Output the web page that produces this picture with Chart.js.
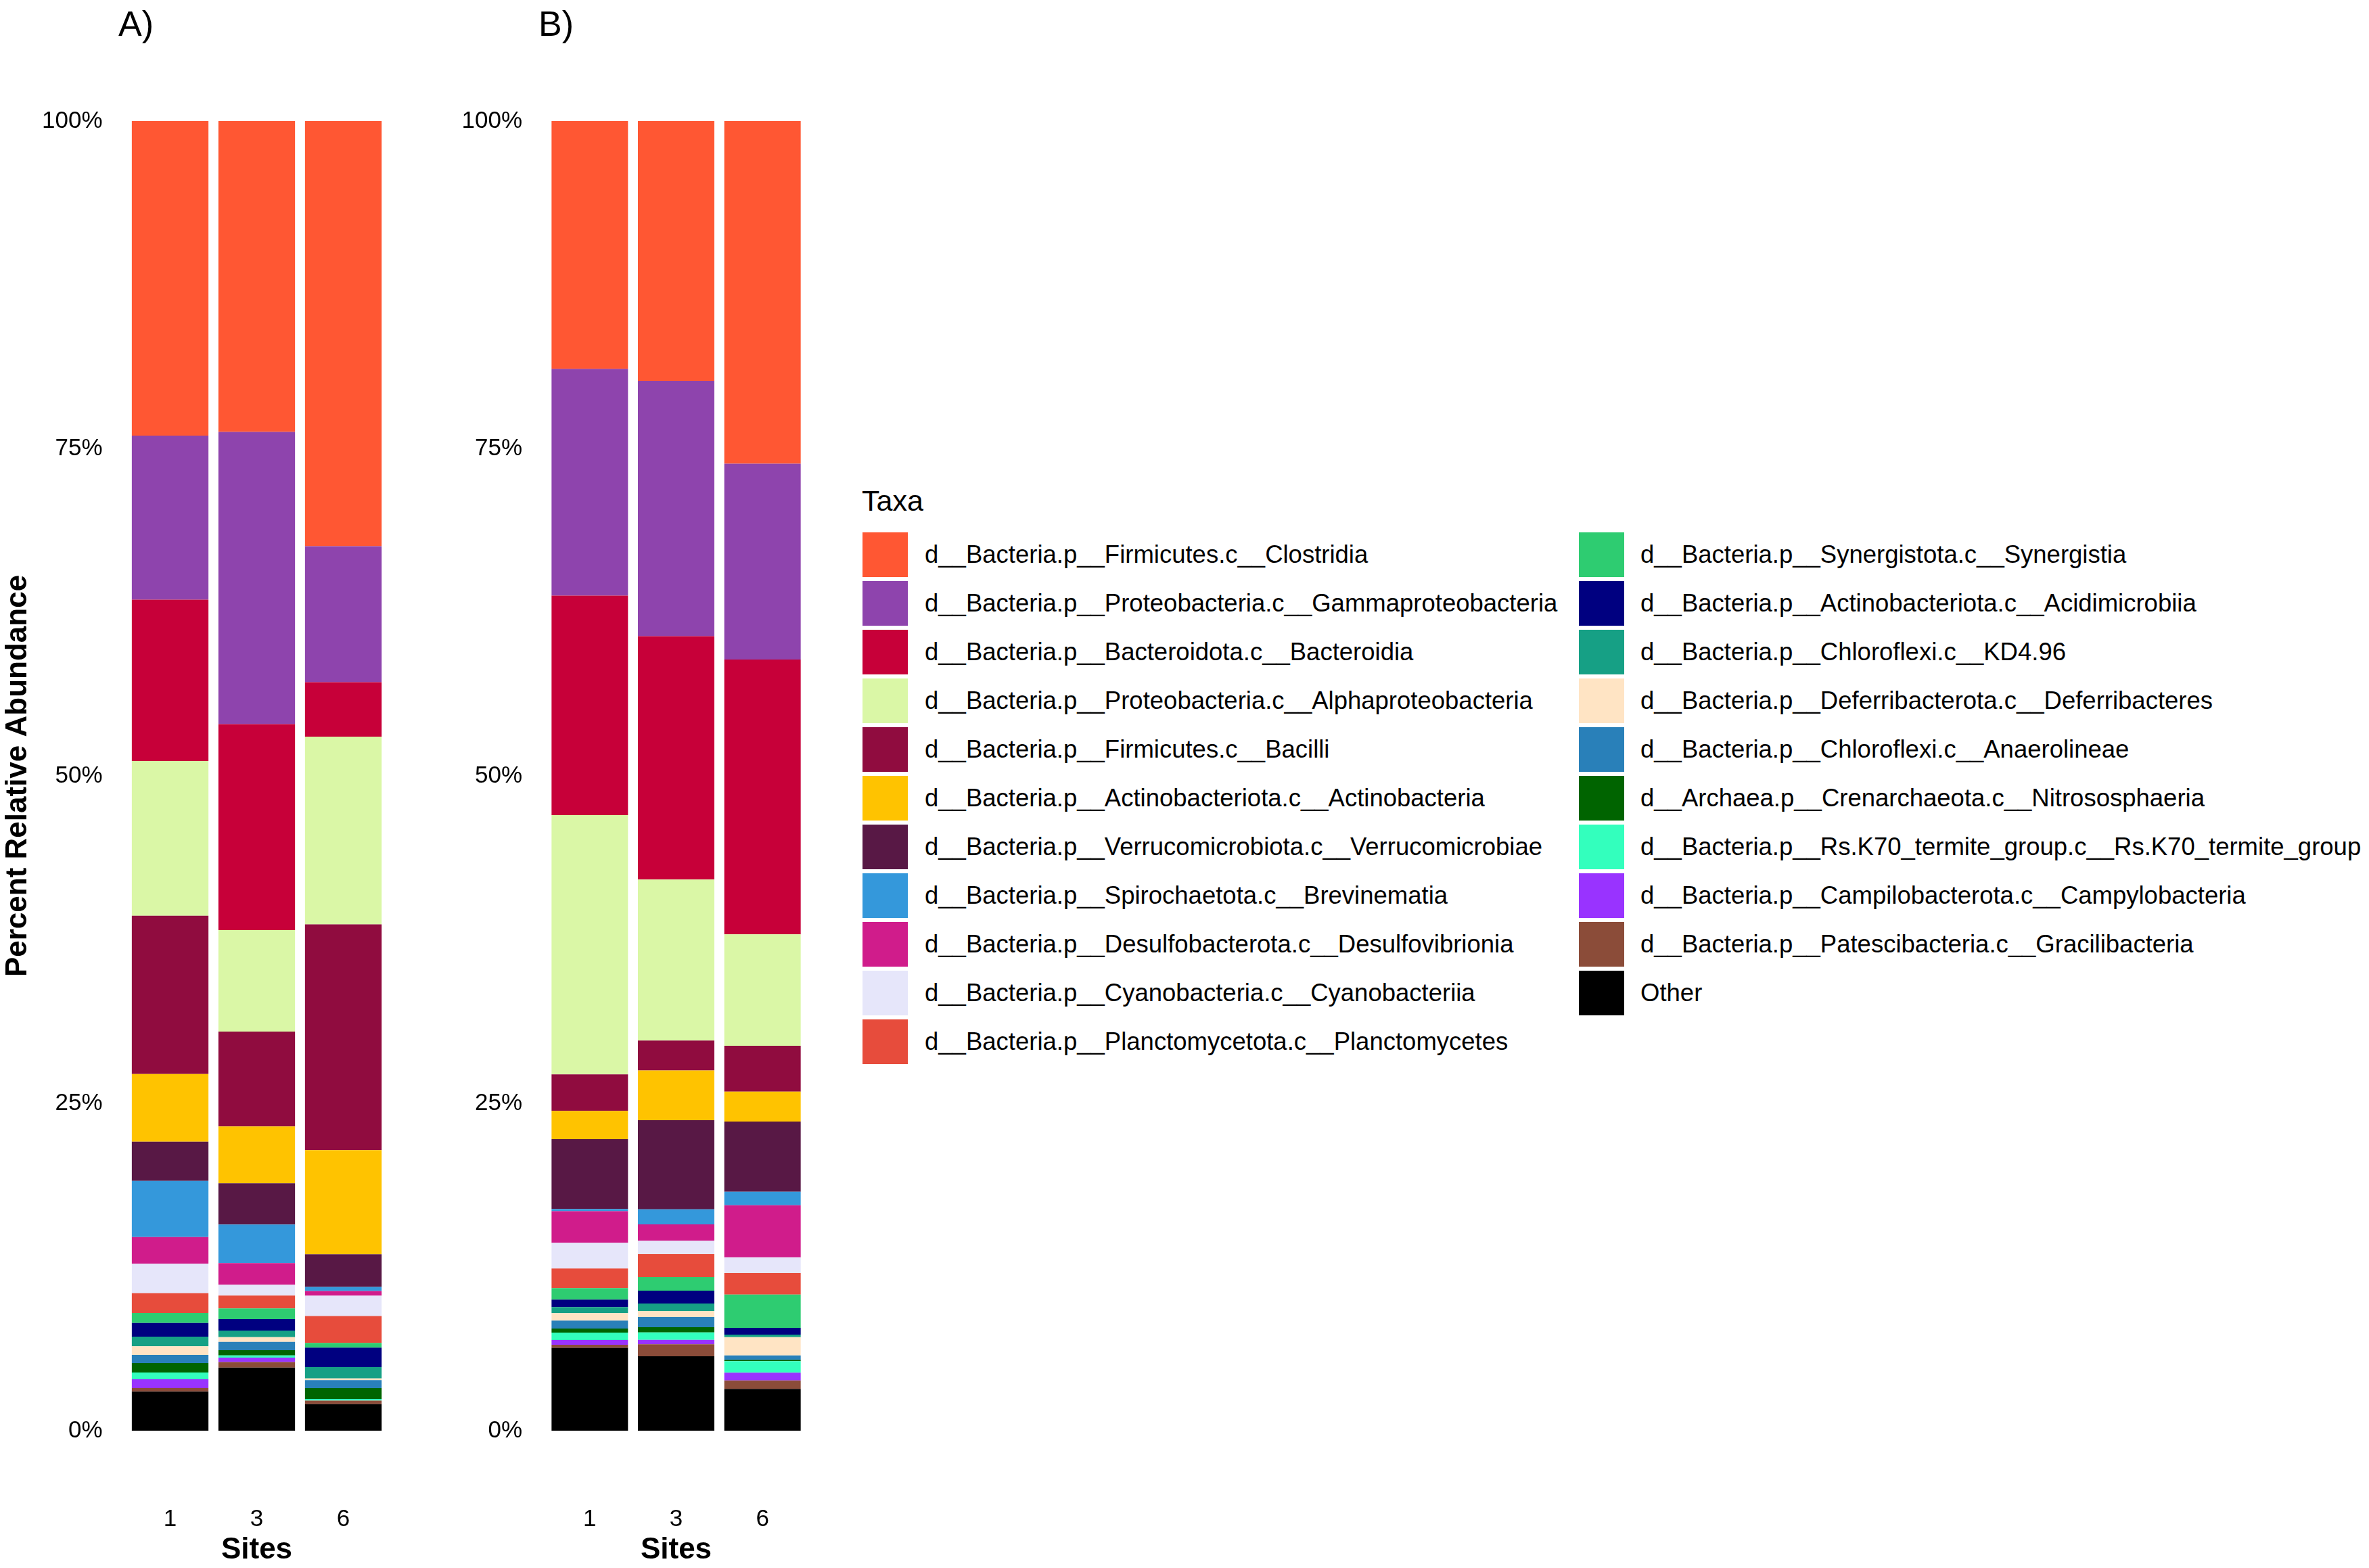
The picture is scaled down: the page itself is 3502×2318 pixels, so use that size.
<!DOCTYPE html>
<html>
<head>
<meta charset="utf-8">
<script src="https://cdn.jsdelivr.net/npm/chart.js@4.4.1/dist/chart.umd.min.js"></script>
<style>
  html, body { margin: 0; padding: 0; background: #ffffff; }
  body { width: 3502px; height: 2318px; position: relative; overflow: hidden;
         font-family: "Liberation Sans", Arial, Helvetica, sans-serif; color: #000; }
  .panel { position: absolute; top: 0; height: 2318px; }
  .tag { position: absolute; font-size: 52px; line-height: 52px; top: 9px; color: #000; }
  #legend { position: absolute; left: 0; top: 0; }
  .ltitle { position: absolute; left: 1274px; top: 719px; font-size: 43px; line-height: 43px; white-space: nowrap; }
  .key { position: absolute; width: 67px; height: 66px; }
  .lab { position: absolute; font-size: 36.5px; line-height: 72px; height: 72px; white-space: nowrap; }
</style>
</head>
<body>
<div class="tag" style="left:175px">A)</div>
<div class="tag" style="left:796px">B)</div>
<div class="panel" id="wrapA" style="left:0px; width:620px;"><canvas id="chartA"></canvas></div>
<div class="panel" id="wrapB" style="left:620px; width:620px;"><canvas id="chartB"></canvas></div>
<div id="legend"></div>

<script>
// ---------------- DATA ----------------
const sites = ['1', '3', '6'];

const taxa = [
  'd__Bacteria.p__Firmicutes.c__Clostridia',
  'd__Bacteria.p__Proteobacteria.c__Gammaproteobacteria',
  'd__Bacteria.p__Bacteroidota.c__Bacteroidia',
  'd__Bacteria.p__Proteobacteria.c__Alphaproteobacteria',
  'd__Bacteria.p__Firmicutes.c__Bacilli',
  'd__Bacteria.p__Actinobacteriota.c__Actinobacteria',
  'd__Bacteria.p__Verrucomicrobiota.c__Verrucomicrobiae',
  'd__Bacteria.p__Spirochaetota.c__Brevinematia',
  'd__Bacteria.p__Desulfobacterota.c__Desulfovibrionia',
  'd__Bacteria.p__Cyanobacteria.c__Cyanobacteriia',
  'd__Bacteria.p__Planctomycetota.c__Planctomycetes',
  'd__Bacteria.p__Synergistota.c__Synergistia',
  'd__Bacteria.p__Actinobacteriota.c__Acidimicrobiia',
  'd__Bacteria.p__Chloroflexi.c__KD4.96',
  'd__Bacteria.p__Deferribacterota.c__Deferribacteres',
  'd__Bacteria.p__Chloroflexi.c__Anaerolineae',
  'd__Archaea.p__Crenarchaeota.c__Nitrososphaeria',
  'd__Bacteria.p__Rs.K70_termite_group.c__Rs.K70_termite_group',
  'd__Bacteria.p__Campilobacterota.c__Campylobacteria',
  'd__Bacteria.p__Patescibacteria.c__Gracilibacteria',
  'Other'
];

const taxaColors = [
  '#FF5733', '#8E44AD', '#C70039', '#DAF7A6', '#900C3F', '#FFC300', '#581845',
  '#3498DB', '#D01C8B', '#E6E6FA', '#E74C3C', '#2ECC71', '#000080', '#16A085',
  '#FFE4C4', '#2980B9', '#006400', '#33FFBD', '#9933FF', '#8B4C39', '#000000'
];

// Percent relative abundance, one array per site, in the order of `taxa`
const panelA_site1 = [24.02, 12.52, 12.33, 11.81, 12.09, 5.16, 3.00, 4.28, 2.03, 2.26, 1.51, 0.76, 1.05, 0.73, 0.67, 0.61, 0.73, 0.52, 0.67, 0.27, 2.98];
const panelA_site3 = [23.73, 22.32, 15.73, 7.74, 7.25, 4.34, 3.15, 2.94, 1.66, 0.82, 0.98, 0.82, 0.88, 0.50, 0.36, 0.63, 0.40, 0.17, 0.34, 0.42, 4.82];
const panelA_site6 = [32.47, 10.37, 4.16, 14.34, 17.24, 7.95, 2.49, 0.31, 0.36, 1.55, 2.06, 0.36, 1.49, 0.86, 0.13, 0.61, 0.82, 0.13, 0.00, 0.27, 2.03];

const panelB_site1 = [18.92, 17.31, 16.77, 19.79, 2.79, 2.16, 5.33, 0.17, 2.41, 1.97, 1.49, 0.88, 0.57, 0.46, 0.57, 0.61, 0.31, 0.57, 0.36, 0.23, 6.33];
const panelB_site3 = [19.83, 19.50, 18.59, 12.29, 2.29, 3.79, 6.81, 1.15, 1.24, 1.03, 1.76, 1.03, 0.98, 0.57, 0.46, 0.78, 0.40, 0.57, 0.33, 0.92, 5.68];
const panelB_site6 = [26.16, 14.96, 20.98, 8.51, 3.50, 2.28, 5.37, 1.03, 3.98, 1.20, 1.64, 2.54, 0.52, 0.19, 1.40, 0.33, 0.10, 0.88, 0.59, 0.65, 3.19];

const yTickValues = [0, 25, 50, 75, 100];
const yTitle = 'Percent Relative Abundance';
const xTitle = 'Sites';
const legendTitle = 'Taxa';

// ---------------- BUILD ----------------
const FONT = '"Liberation Sans", Arial, Helvetica, sans-serif';

function buildDatasets(siteArrays) {
  const ds = [];
  // bottom of stack first: Other ... Clostridia on top
  for (let i = taxa.length - 1; i >= 0; i--) {
    ds.push({
      label: taxa[i],
      data: siteArrays.map(arr => arr[i]),
      backgroundColor: taxaColors[i],
      borderWidth: 0,
      categoryPercentage: 1.0,
      barPercentage: 0.885
    });
  }
  return ds;
}

function makeChart(canvasId, siteArrays, showYTitle, yAxisWidth, rightPad) {
  return new Chart(document.getElementById(canvasId), {
    type: 'bar',
    data: { labels: sites, datasets: buildDatasets(siteArrays) },
    options: {
      responsive: true,
      maintainAspectRatio: false,
      animation: false,
      events: [],
      layout: { padding: { top: 179, right: rightPad, left: 0, bottom: 0 } },
      plugins: {
        legend: { display: false },
        tooltip: { enabled: false },
        title: { display: false }
      },
      scales: {
        x: {
          stacked: true,
          grid: { display: false, drawTicks: false },
          border: { display: false },
          ticks: { padding: 0, color: '#000', maxRotation: 0,
                   font: { family: FONT, size: 35, lineHeight: '262px' } },
          title: { display: true, text: xTitle, color: '#000', padding: 0,
                   font: { family: FONT, size: 44, weight: 'bold' } },
          afterFit: (s) => { s.height = 203; }
        },
        y: {
          stacked: true,
          min: 0,
          max: 100,
          grid: { display: false, drawTicks: false },
          border: { display: false },
          afterBuildTicks: (s) => { s.ticks = yTickValues.map(v => ({ value: v })); },
          ticks: { padding: 36, color: '#000', font: { family: FONT, size: 35 },
                   callback: (v) => v + '%' },
          title: { display: showYTitle, text: yTitle, color: '#000', padding: 0,
                   font: { family: FONT, size: 44, weight: 'bold' } },
          afterFit: (s) => { s.width = yAxisWidth; }
        }
      }
    }
  });
}

makeChart('chartA', [panelA_site1, panelA_site3, panelA_site6], true, 187.5, 48.5);
makeChart('chartB', [panelB_site1, panelB_site3, panelB_site6], false, 188, 49);

// ---------------- LEGEND (HTML) ----------------
const legend = document.getElementById('legend');
const t = document.createElement('div');
t.className = 'ltitle';
t.textContent = legendTitle;
legend.appendChild(t);

const colKeyX = [1275, 2334];
const colTextX = [1367, 2425];
const rowsPerCol = 11;
taxa.forEach((name, i) => {
  const col = i < rowsPerCol ? 0 : 1;
  const row = col === 0 ? i : i - rowsPerCol;
  const cy = 820 + 72 * row;
  const k = document.createElement('div');
  k.className = 'key';
  k.style.left = colKeyX[col] + 'px';
  k.style.top = (cy - 33) + 'px';
  k.style.background = taxaColors[i];
  legend.appendChild(k);
  const l = document.createElement('div');
  l.className = 'lab';
  l.style.left = colTextX[col] + 'px';
  l.style.top = (cy - 36) + 'px';
  l.textContent = name;
  legend.appendChild(l);
});
</script>
</body>
</html>
